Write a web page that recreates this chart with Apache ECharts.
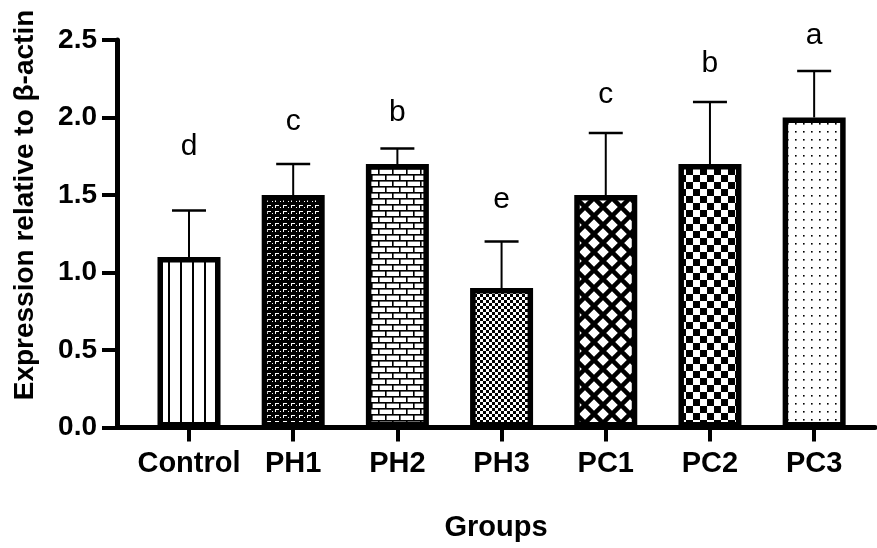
<!DOCTYPE html>
<html>
<head>
<meta charset="utf-8">
<script src="https://cdn.jsdelivr.net/npm/echarts@6/dist/echarts.min.js"></script>
<style>
html,body{margin:0;padding:0;background:#fff;}
#chart{width:877px;height:548px;}
</style>
</head>
<body>
<div id="chart"></div>
<script>
// ---- data ----
var categories = ['Control', 'PH1', 'PH2', 'PH3', 'PC1', 'PC2', 'PC3'];
var means      = [1.1, 1.5, 1.7, 0.9, 1.5, 1.7, 2.0];
var errors     = [0.3, 0.2, 0.1, 0.3, 0.4, 0.4, 0.3];
var letters    = ['d', 'c', 'b', 'e', 'c', 'b', 'a'];
var letterPos  = [1.81, 1.97, 2.03, 1.47, 2.15, 2.35, 2.53];
var yTicks     = [0, 0.5, 1.0, 1.5, 2.0, 2.5];

var FONT = 'Arial, "Liberation Sans", sans-serif';

function mk(w, h, draw, bg) {
  var c = document.createElement('canvas');
  c.width = w; c.height = h;
  var g = c.getContext('2d');
  g.fillStyle = bg || '#fff';
  g.fillRect(0, 0, w, h);
  g.fillStyle = '#000';
  g.strokeStyle = '#000';
  draw(g);
  return { image: c, repeat: 'repeat' };
}

var patterns = [
  // Control: vertical stripes
  mk(12, 4, function (g) { g.fillRect(0, 0, 2, 4); }),
  // PH1: black with white small corner marks
  mk(8, 6, function (g) {
    g.fillStyle = '#fff';
    g.fillRect(3, 1, 4, 1);
    g.fillRect(3, 1, 1, 3);
    g.fillRect(0, 3, 1, 1);
  }, '#000'),
  // PH2: brick
  mk(14, 12, function (g) {
    g.fillRect(0, 0, 14, 1.6);
    g.fillRect(0, 6, 14, 1.6);
    g.fillRect(0, 0, 1.6, 6);
    g.fillRect(7, 6, 1.6, 6);
  }),
  // PH3: fine checker
  mk(6, 6, function (g) {
    g.fillRect(0, 0, 3, 3);
    g.fillRect(3, 3, 3, 3);
  }),
  // PC1: diagonal crosshatch (white diamonds)
  mk(18, 18, function (g) {
    g.lineWidth = 4.5;
    g.beginPath();
    g.moveTo(-2, -2); g.lineTo(20, 20);
    g.moveTo(20, -2); g.lineTo(-2, 20);
    g.stroke();
  }),
  // PC2: large checker
  mk(14, 14, function (g) {
    g.fillRect(0, 0, 7, 7);
    g.fillRect(7, 7, 7, 7);
  }),
  // PC3: dots
  mk(8, 8, function (g) {
    g.fillRect(3, 3, 1.6, 1.6);
  })
];

var barData = means.map(function (v, i) {
  return { value: [i, v], itemStyle: { color: patterns[i] } };
});
var errData = means.map(function (v, i) {
  return [i, v, errors[i], letterPos[i]];
});

var chart = echarts.init(document.getElementById('chart'), null, { renderer: 'canvas' });

chart.setOption({
  animation: false,
  backgroundColor: '#fff',
  grid: { left: 117, right: 2, top: 40, bottom: 120.5, containLabel: false },
  xAxis: {
    type: 'value',
    min: -0.691,
    max: 6.584,
    name: 'Groups',
    nameLocation: 'middle',
    nameGap: 86,
    nameTextStyle: { fontFamily: FONT, fontWeight: 'bold', fontSize: 29, color: '#000' },
    splitLine: { show: false },
    axisLine: { show: true, onZero: false, lineStyle: { color: '#000', width: 5 } },
    axisTick: { show: true, length: 14, customValues: [0, 1, 2, 3, 4, 5, 6], lineStyle: { color: '#000', width: 4 } },
    axisLabel: {
      customValues: [0, 1, 2, 3, 4, 5, 6],
      margin: 22,
      fontFamily: FONT, fontWeight: 'bold', fontSize: 29, color: '#000',
      formatter: function (v) { return categories[Math.round(v)]; }
    }
  },
  yAxis: {
    type: 'value',
    min: 0,
    max: 2.5,
    interval: 0.5,
    splitLine: { show: false },
    axisLine: { show: true, onZero: false, lineStyle: { color: '#000', width: 5 } },
    axisTick: { show: true, length: 15, lineStyle: { color: '#000', width: 4 } },
    axisLabel: {
      margin: 20,
      fontFamily: FONT, fontWeight: 'bold', fontSize: 28, color: '#000',
      formatter: function (v) { return v.toFixed(1); }
    }
  },
  graphic: [{
    type: 'text',
    x: 25, y: 205,
    rotation: Math.PI / 2,
    style: {
      text: 'Expression relative to \u03B2-actin',
      font: 'bold 28px ' + FONT,
      fill: '#000',
      textAlign: 'center',
      textVerticalAlign: 'middle'
    }
  }],
  series: [
    {
      type: 'bar',
      data: barData,
      barWidth: 63,
      itemStyle: { borderColor: '#000', borderWidth: 5.5 },
      z: 3
    },
    {
      type: 'custom',
      data: errData,
      clip: false,
      z: 2,
      renderItem: function (params, api) {
        var x = api.value(0), v = api.value(1), e = api.value(2), lp = api.value(3);
        var base = api.coord([x, v]);
        var top = api.coord([x, v + e]);
        var lab = api.coord([x, lp]);
        return {
          type: 'group',
          children: [
            { type: 'line', shape: { x1: base[0], y1: base[1], x2: top[0], y2: top[1] }, style: { stroke: '#000', lineWidth: 2 } },
            { type: 'line', shape: { x1: top[0] - 17, y1: top[1], x2: top[0] + 17, y2: top[1] }, style: { stroke: '#000', lineWidth: 2.5 } },
            { type: 'text', x: lab[0], y: lab[1], style: { text: letters[params.dataIndex], font: '30px ' + FONT, fill: '#000', textAlign: 'center', textVerticalAlign: 'middle' } }
          ]
        };
      }
    }
  ]
});
</script>
</body>
</html>
